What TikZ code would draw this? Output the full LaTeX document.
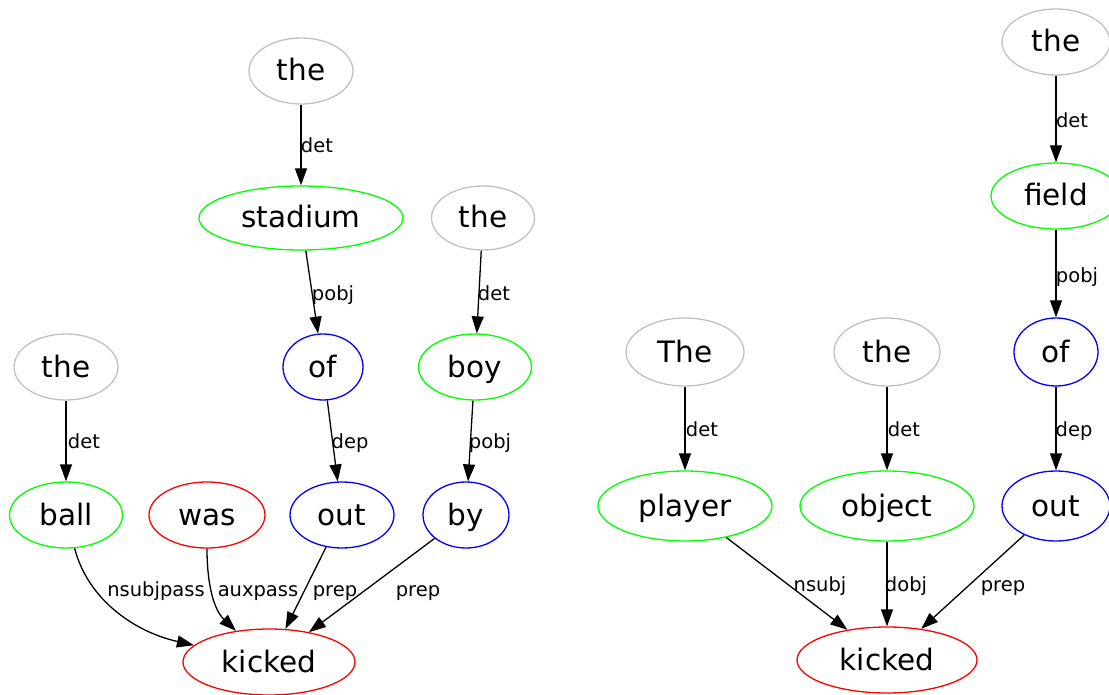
\documentclass[tikz,border=0pt]{standalone}
\usepackage{fontspec}
\setmainfont{DejaVu Sans}
\usetikzlibrary{shapes.geometric,arrows.meta}
\definecolor{tokgray}{HTML}{C0C0C0}
\definecolor{tokgreen}{HTML}{00FF00}
\definecolor{tokblue}{HTML}{0000FF}
\definecolor{tokred}{HTML}{FF0000}
\begin{document}
\begin{tikzpicture}[x=1pt,y=-1pt,
  word/.style={ellipse, draw, line width=1.3pt, inner sep=0pt,
    text height=26.5pt, text depth=6.5pt,
    font=\fontsize{29.5}{34}\selectfont},
  detw/.style={word, draw=tokgray},
  nounw/.style={word, draw=tokgreen},
  prepw/.style={word, draw=tokblue},
  verbw/.style={word, draw=tokred},
  dep/.style={line width=1.3pt, -{Triangle[length=17pt,width=12pt]}},
  lbl/.style={font=\fontsize{19.5}{23}\selectfont, inner sep=0pt,
    text height=17.5pt, text depth=4.3pt}]
\useasboundingbox (0,0) rectangle (1109,695);

% first sentence
\node[detw,  minimum width=104, minimum height=66] (the1) at (301,71) {the};
\node[nounw, minimum width=204, minimum height=64] (stadium) at (301,218) {stadium};
\node[detw,  minimum width=103, minimum height=64] (the2) at (483,218) {the};
\node[prepw, minimum width=80,  minimum height=66] (of1) at (323,367) {of};
\node[nounw, minimum width=113, minimum height=66] (boy) at (475,367) {boy};
\node[detw,  minimum width=104, minimum height=66] (the3) at (66,367) {the};
\node[nounw, minimum width=113, minimum height=66] (ball) at (66,515) {ball};
\node[verbw, minimum width=116, minimum height=66] (was) at (207,515) {was};
\node[prepw, minimum width=104, minimum height=66] (out1) at (342,515) {out};
\node[prepw, minimum width=86,  minimum height=66] (by) at (466,515) {by};
\node[verbw, minimum width=172, minimum height=66] (kicked1) at (269,662) {kicked};

\draw[dep] (the1) -- (stadium);
\draw[dep] (stadium) -- (of1);
\draw[dep] (the2) -- (boy);
\draw[dep] (the3) -- (ball);
\draw[dep] (of1) -- (out1);
\draw[dep] (boy) -- (by);
\draw[dep] (ball) .. controls (88,600) and (135,632) .. (kicked1);
\draw[dep] (was) .. controls (207,585) and (214,610) .. (kicked1);
\draw[dep] (out1) -- (kicked1);
\draw[dep] (by) -- (kicked1);

\node[lbl] (l1) at (317,146) {det};
\node[lbl] (l2) at (333,294) {pobj};
\node[lbl] (l3) at (494,294) {det};
\node[lbl] (l4) at (84,442) {det};
\node[lbl] (l5) at (350,442) {dep};
\node[lbl] (l6) at (490,442) {pobj};
\node[lbl] (l7) at (156,590) {nsubjpass};
\node[lbl] (l8) at (258,590) {auxpass};
\node[lbl] (l9) at (335,590) {prep};
\node[lbl] (l10) at (418,590) {prep};

% second sentence
\node[detw,  minimum width=108, minimum height=66] (the4) at (1056,42) {the};
\node[nounw, minimum width=130, minimum height=66] (field) at (1056,196) {field};
\node[prepw, minimum width=84,  minimum height=68] (of2) at (1056,352) {of};
\node[detw,  minimum width=118, minimum height=68] (The) at (685,352) {The};
\node[detw,  minimum width=106, minimum height=68] (the5) at (887,352) {the};
\node[nounw, minimum width=174, minimum height=70] (player) at (685,506) {player};
\node[nounw, minimum width=174, minimum height=70] (object) at (887,506) {object};
\node[prepw, minimum width=108, minimum height=70] (out2) at (1056,506) {out};
\node[verbw, minimum width=180, minimum height=66] (kicked2) at (887,660) {kicked};

\draw[dep] (the4) -- (field);
\draw[dep] (field) -- (of2);
\draw[dep] (The) -- (player);
\draw[dep] (the5) -- (object);
\draw[dep] (of2) -- (out2);
\draw[dep] (player) -- (kicked2);
\draw[dep] (object) -- (kicked2);
\draw[dep] (out2) -- (kicked2);

\node[lbl] (m1) at (1072,121) {det};
\node[lbl] (m2) at (1077,276) {pobj};
\node[lbl] (m3) at (702,430) {det};
\node[lbl] (m4) at (904,430) {det};
\node[lbl] (m5) at (1074,430) {dep};
\node[lbl] (m6) at (820,585) {nsubj};
\node[lbl] (m7) at (906,585) {dobj};
\node[lbl] (m8) at (1003,585) {prep};
\end{tikzpicture}
\end{document}
